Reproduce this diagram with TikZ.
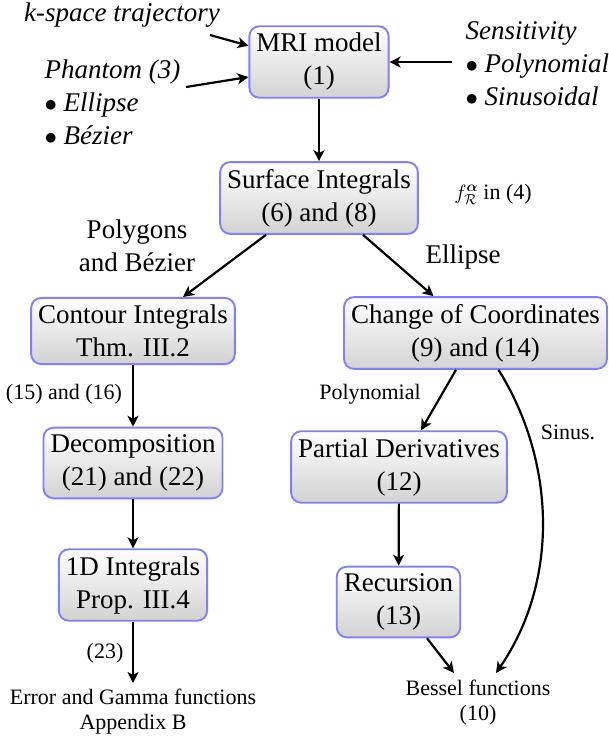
\documentclass[tikz,border=0pt]{standalone}
\usepackage{fontspec}
\setmainfont{Liberation Serif}
\usepackage{bm}
\usetikzlibrary{arrows.meta,calc}
\begin{document}
\begin{tikzpicture}[x=1pt,y=-1pt,
  box/.style={draw=blue!50, line width=1.9pt, rounded corners=10pt, top color=white, bottom color=gray!35, align=center, inner xsep=7pt, inner ysep=7pt, font=\fontsize{27}{33}\selectfont},
  lbl/.style={align=center, font=\fontsize{27}{33}\selectfont},
  slbl/.style={align=center, font=\fontsize{22}{25}\selectfont},
  arr/.style={line width=2.2pt, -{Stealth[length=11pt,width=11pt,inset=3pt]}}]
\useasboundingbox (0,0) rectangle (609,740);
% boxes
\node[box] (mri) at (319,62) {MRI model\\(1)};
\node[box] (surf) at (319,198) {Surface Integrals\\(6) and (8)};
\node[box] (cont) at (133,331) {Contour Integrals\\Thm. III.2};
\node[box] (chg) at (475.5,333) {Change of Coordinates\\(9) and (14)};
\node[box] (dec) at (133,463) {Decomposition\\(21) and (22)};
\node[box] (oned) at (133,585) {1D Integrals\\Prop. III.4};
\node[box] (pd) at (399,467) {Partial Derivatives\\(12)};
\node[box] (rec) at (398.5,602) {Recursion\\(13)};
% inputs
\node[lbl, font=\fontsize{27}{33}\selectfont\itshape] (ks) at (122,15) {k-space trajectory};
\node[lbl, align=left, anchor=west] (ph) at (41,102) {\textit{Phantom (3)}\\$\bullet$ \textit{Ellipse}\\$\bullet$ \textit{Bézier}};
\node[lbl, align=left, anchor=west] (sens) at (462,64) {\textit{Sensitivity}\\$\bullet$ \textit{Polynomial}\\$\bullet$ \textit{Sinusoidal}};
\coordinate (ksA) at (210,35);
\coordinate (phA) at (186,87);
\coordinate (seA) at (452,62);
% outputs
\node[slbl] (err) at (133,712) {Error and Gamma functions\\Appendix B};
\node[slbl] (bes) at (478,703) {Bessel functions\\(10)};
\coordinate (errT) at (133,683);
\coordinate (besL) at (454,673);
\coordinate (besR) at (496,673);
% labels
\node[slbl] (flab) at (493,194) {$f_{\mathcal{R}}^{\bm{\alpha}}$ in (4)};
\node[lbl] (poly) at (137,246) {Polygons\\and Bézier};
\node[lbl] (ell) at (463,257) {Ellipse};
\node[slbl] (l1516) at (64,394) {(15) and (16)};
\node[slbl] (l23) at (105,653) {(23)};
\node[slbl] (lpoly) at (370,394) {Polynomial};
\node[slbl] (lsin) at (568,432) {Sinus.};
% connectors
\draw[arr] (ksA) -- (mri.167);
\draw[arr] (phA) -- (mri.192);
\draw[arr] (seA) -- (mri.east);
\draw[arr] (mri) -- (surf);
\draw[arr] ($(surf.south)+(-53,0)$) -- ($(cont.north)+(50,0)$);
\draw[arr] ($(surf.south)+(44,0)$) -- ($(chg.north)+(-42,0)$);
\draw[arr] (cont) -- (dec);
\draw[arr] (dec) -- (oned);
\draw[arr] (oned) -- (errT);
\draw[arr] ($(chg.south)+(-19.5,0)$) -- ($(pd.north)+(22,0)$);
\draw[arr] (pd) -- (rec);
\draw[arr] ($(rec.south)+(28.5,0)$) -- (besL);
\draw[arr] ($(chg.south)+(23,0)$) .. controls (555,460) and (560,580) .. (besR);
\end{tikzpicture}
\end{document}
